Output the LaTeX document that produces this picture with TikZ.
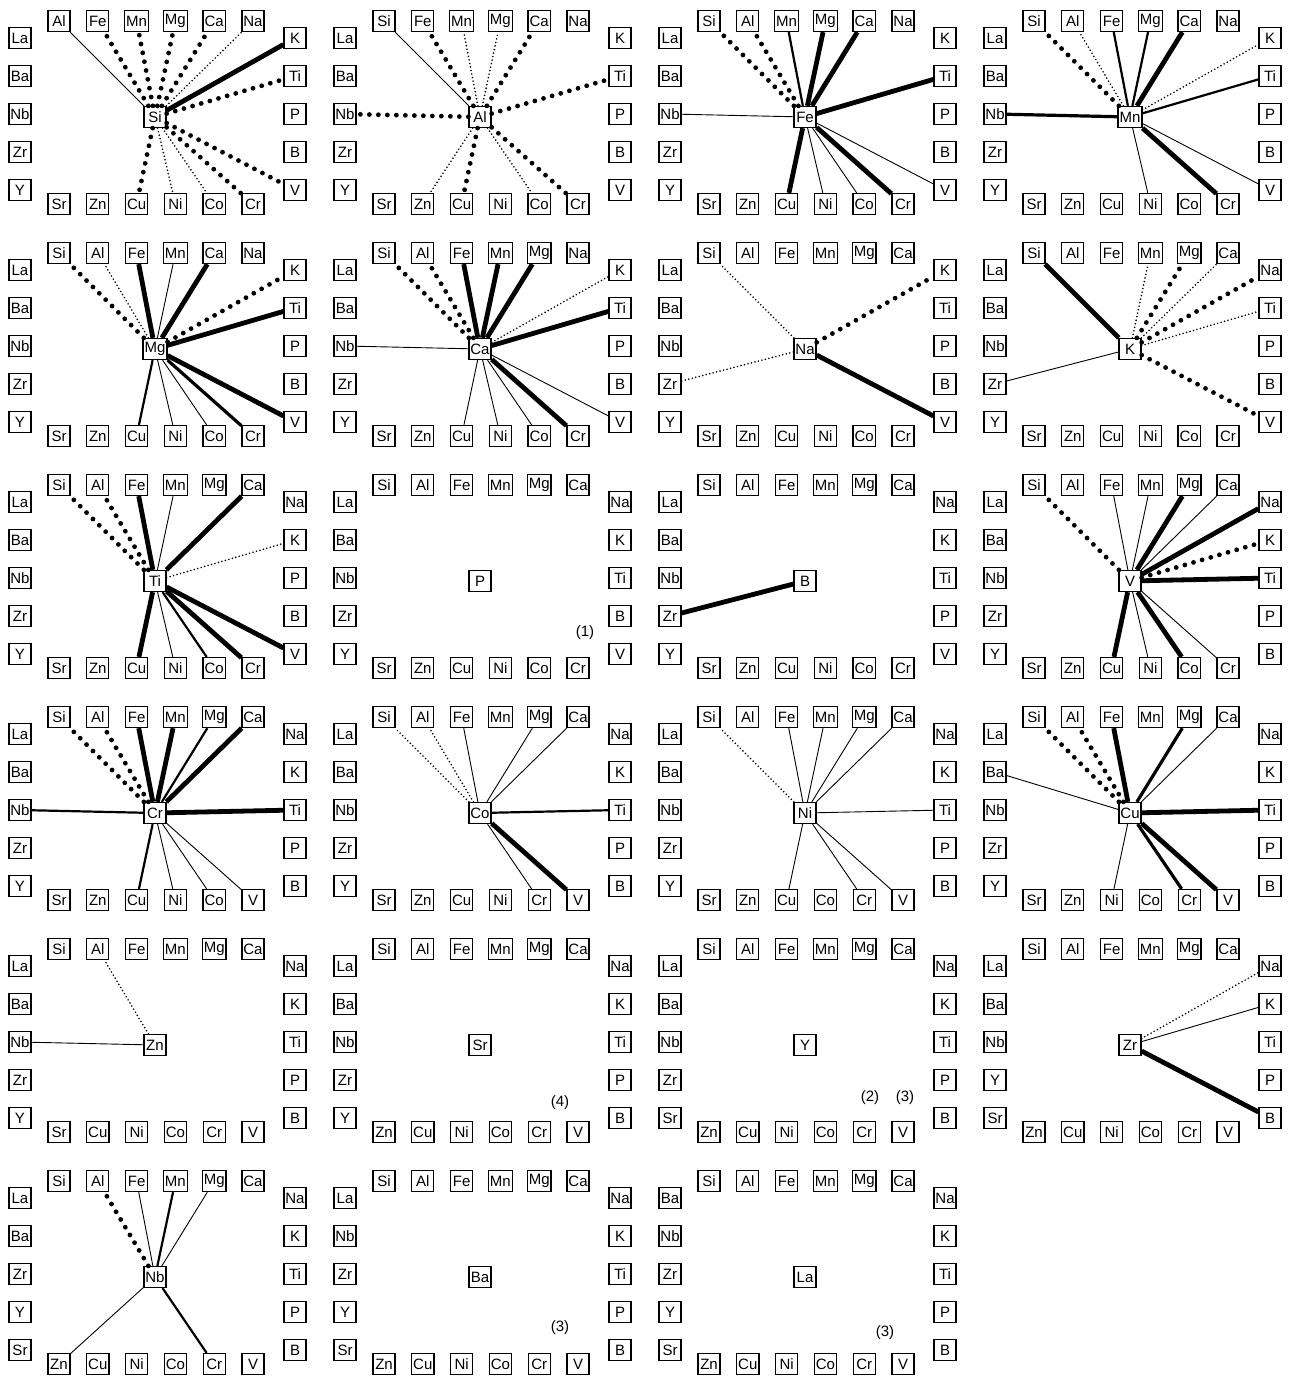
\documentclass[tikz,border=0pt]{standalone}
\usepackage{fontspec}
\setmainfont{Liberation Sans}
\newcount\elk
\tikzset{
  el/.style={draw, line width=1.3pt, inner xsep=1.5pt, inner ysep=1pt, minimum width=22pt, minimum height=21pt, font=\fontsize{15}{17}\selectfont},
  note/.style={font=\fontsize{15}{17}\selectfont},
  lthin/.style={line width=0.9pt},
  lmed/.style={line width=2.2pt},
  lmedk/.style={line width=3.2pt},
  lthick/.style={line width=4.8pt},
  ldot/.style={line width=1.8pt, line cap=round, dash pattern=on 0pt off 3.6pt},
  ldotk/.style={line width=4.8pt, line cap=round, dash pattern=on 0pt off 9pt},
}
\newcommand\elpanel[3]{%
  \begin{scope}[shift={(#2*325,#3*232)}]
    \node[el] (#1-#1) at (155,117) {#1};
    \global\elk=0
    \def\elctr{#1}%
    \foreach \e in {Si,Al,Fe,Mn,Mg,Ca,Na,K,Ti,P,B,V,Cr,Co,Ni,Cu,Zn,Sr,Y,Zr,Nb,Ba,La}{%
      \ifnum\strcmp{\e}{\elctr}=0 \else
        \ifnum\elk<6 \pgfmathsetmacro\elx{59+38.8*\the\elk}\def\ely{21}%
        \else\ifnum\elk<11 \def\elx{295}\pgfmathsetmacro\ely{38+38*(\the\elk-6)}%
        \else\ifnum\elk<17 \pgfmathsetmacro\elx{253-38.8*(\the\elk-11)}\def\ely{204}%
        \else \def\elx{20}\pgfmathsetmacro\ely{190-38*(\the\elk-17)}%
        \fi\fi\fi
        \node[el] (\elctr-\e) at (\elx,\ely) {\e};
        \global\advance\elk by 1
      \fi
    }
  \end{scope}
}
\newcommand\elinks[3]{\foreach \t in {#3}{\draw[#2] (#1-#1) -- (#1-\t);}}
\begin{document}
\begin{tikzpicture}[x=1pt,y=-1pt]
\useasboundingbox (0,0) rectangle (1297,1378);
% row 0
\elpanel{Si}{0}{0}
\elpanel{Al}{1}{0}
\elpanel{Fe}{2}{0}
\elpanel{Mn}{3}{0}
% row 1
\elpanel{Mg}{0}{1}
\elpanel{Ca}{1}{1}
\elpanel{Na}{2}{1}
\elpanel{K}{3}{1}
% row 2
\elpanel{Ti}{0}{2}
\elpanel{P}{1}{2}
\elpanel{B}{2}{2}
\elpanel{V}{3}{2}
% row 3
\elpanel{Cr}{0}{3}
\elpanel{Co}{1}{3}
\elpanel{Ni}{2}{3}
\elpanel{Cu}{3}{3}
% row 4
\elpanel{Zn}{0}{4}
\elpanel{Sr}{1}{4}
\elpanel{Y}{2}{4}
\elpanel{Zr}{3}{4}
% row 5
\elpanel{Nb}{0}{5}
\elpanel{Ba}{1}{5}
\elpanel{La}{2}{5}
% links
\elinks{Si}{lthin}{Al}
\elinks{Si}{ldotk}{Fe,Mn,Mg,Ca,Ti,V,Cr,Cu}
\elinks{Si}{ldot}{Na,Co,Ni}
\elinks{Si}{lthick}{K}
\elinks{Al}{lthin}{Si}
\elinks{Al}{ldotk}{Fe,Ca,Ti,Nb,Cu,Cr}
\elinks{Al}{ldot}{Mn,Mg,Zn,Co}
\elinks{Fe}{ldotk}{Si,Al}
\elinks{Fe}{lmed}{Mn}
\elinks{Fe}{lthick}{Mg,Ca,Ti,Cu,Cr}
\elinks{Fe}{lthin}{Nb,Ni,Co,V}
\elinks{Mn}{ldotk}{Si}
\elinks{Mn}{ldot}{Al,K}
\elinks{Mn}{lmed}{Fe,Mg,Ti}
\elinks{Mn}{lthick}{Ca,Cr}
\elinks{Mn}{lmedk}{Nb}
\elinks{Mn}{lthin}{Ni,V}
\elinks{Mg}{ldotk}{Si,K}
\elinks{Mg}{ldot}{Al}
\elinks{Mg}{lthick}{Fe,Ca,Ti,V}
\elinks{Mg}{lthin}{Mn,Co,Ni}
\elinks{Mg}{lmedk}{Cr}
\elinks{Mg}{lmed}{Cu}
\elinks{Ca}{ldotk}{Si,Al}
\elinks{Ca}{lthick}{Fe,Mn,Mg,Ti,Cr}
\elinks{Ca}{ldot}{K}
\elinks{Ca}{lthin}{Nb,Cu,Ni,Co,V}
\elinks{Na}{ldot}{Si,Zr}
\elinks{Na}{ldotk}{K}
\elinks{Na}{lthick}{V}
\elinks{K}{lthick}{Si}
\elinks{K}{ldot}{Mn,Ca,Ti}
\elinks{K}{ldotk}{Mg,Na,V}
\elinks{K}{lthin}{Zr}
\elinks{Ti}{ldotk}{Si,Al}
\elinks{Ti}{lthick}{Fe,Ca,Cu,Cr,V}
\elinks{Ti}{lthin}{Mn,Ni}
\elinks{Ti}{ldot}{K}
\elinks{Ti}{lmed}{Co}
\elinks{B}{lthick}{Zr}
\elinks{V}{ldotk}{Si,K}
\elinks{V}{lthin}{Fe,Mn,Ca,Cr,Ni}
\elinks{V}{lthick}{Mg,Na,Ti,Co,Cu}
\elinks{Cr}{ldotk}{Si,Al}
\elinks{Cr}{lthick}{Fe,Mn,Ca,Ti}
\elinks{Cr}{lmed}{Mg,Nb,Cu}
\elinks{Cr}{lthin}{Ni,Co,V}
\elinks{Co}{ldot}{Si,Al}
\elinks{Co}{lthin}{Fe,Mg,Ca,Cr}
\elinks{Co}{lmed}{Ti}
\elinks{Co}{lthick}{V}
\elinks{Ni}{ldot}{Si}
\elinks{Ni}{lthin}{Fe,Mn,Mg,Ca,Ti,Cu,Cr,V}
\elinks{Cu}{ldotk}{Si,Al}
\elinks{Cu}{lthick}{Fe,Ti,V}
\elinks{Cu}{lmedk}{Mg,Cr}
\elinks{Cu}{lthin}{Ca,Ba,Ni}
\elinks{Zn}{ldot}{Al}
\elinks{Zn}{lthin}{Nb}
\elinks{Zr}{ldot}{Na}
\elinks{Zr}{lthin}{K}
\elinks{Zr}{lthick}{B}
\elinks{Nb}{ldotk}{Al}
\elinks{Nb}{lthin}{Fe,Mg,Zn}
\elinks{Nb}{lmed}{Mn,Cr}
% notes
\node[note] (n1) at (585,633) {(1)};
\node[note] (n4) at (560,1103) {(4)};
\node[note] (n2) at (870,1098) {(2)};
\node[note] (n3a) at (905,1098) {(3)};
\node[note] (n3b) at (560,1328) {(3)};
\node[note] (n3c) at (885,1333) {(3)};
\end{tikzpicture}
\end{document}
